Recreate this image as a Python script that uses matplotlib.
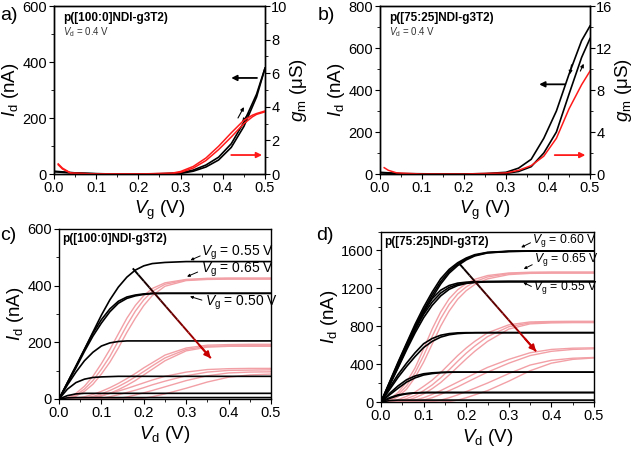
import matplotlib as mpl
import matplotlib.pyplot as plt
import numpy as np
from matplotlib.ticker import MultipleLocator, AutoMinorLocator

mpl.rcParams['font.family'] = ['Liberation Sans', 'DejaVu Sans']
mpl.rcParams['mathtext.fontset'] = 'custom'
mpl.rcParams['mathtext.rm'] = 'Liberation Sans'
mpl.rcParams['mathtext.it'] = 'Liberation Sans:italic'
mpl.rcParams['axes.linewidth'] = 1.0

# ---- transfer curves, panel a ----
vg_a = [0.0, 0.05, 0.1, 0.15, 0.2, 0.25, 0.3, 0.33, 0.36, 0.39, 0.42, 0.45, 0.48, 0.5]
id_a_fwd = [10, 4, 1, 0, 0, 0, 2, 10, 25, 50, 95, 170, 275, 378]
id_a_bwd = [8, 3, 1, 0, 0, 1, 4, 14, 32, 60, 108, 185, 285, 378]
vg_a_gm = [0.01, 0.02, 0.04, 0.1, 0.2, 0.28, 0.3, 0.33, 0.36, 0.39, 0.42, 0.45, 0.47, 0.48, 0.5]
gm_a_fwd = [0.6, 0.35, 0.05, 0.0, 0.0, 0.03, 0.1, 0.35, 0.8, 1.45, 2.2, 3.0, 3.4, 3.55, 3.7]
gm_a_bwd = [0.55, 0.3, 0.05, 0.0, 0.0, 0.05, 0.15, 0.45, 0.95, 1.65, 2.45, 3.2, 3.5, 3.6, 3.75]

# ---- transfer curves, panel b ----
vg_b = [0.0, 0.05, 0.1, 0.15, 0.2, 0.25, 0.3, 0.33, 0.36, 0.39, 0.42, 0.45, 0.48, 0.5]
id_b_fwd = [6, 1, 0, 0, 0, 0, 3, 12, 35, 100, 200, 380, 555, 645]
id_b_bwd = [8, 2, 1, 0, 0, 2, 8, 28, 70, 170, 300, 475, 635, 705]
vg_b_gm = [0.01, 0.02, 0.04, 0.1, 0.2, 0.3, 0.33, 0.36, 0.39, 0.42, 0.45, 0.48, 0.5]
gm_b = [0.6, 0.35, 0.1, 0.0, 0.0, 0.1, 0.35, 0.8, 1.7, 3.4, 6.2, 8.5, 9.8]

# ---- output curves (shared Vd grid) ----
vd = [0, 0.02, 0.04, 0.06, 0.08, 0.1, 0.12, 0.14, 0.16, 0.18, 0.2, 0.22, 0.25, 0.3, 0.35, 0.4, 0.45, 0.5]

c_black = [
    [0, 58, 116, 175, 236, 296, 350, 395, 430, 455, 470, 478, 482, 485, 485, 485, 485, 485],
    [0, 58, 116, 175, 232, 280, 318, 345, 360, 367, 371, 373, 373, 373, 373, 373, 373, 373],
    [0, 55, 110, 168, 222, 268, 308, 338, 355, 364, 369, 372, 373, 373, 373, 373, 373, 373],
    [0, 50, 95, 135, 165, 187, 198, 203, 205, 205, 205, 205, 205, 205, 205, 205, 205, 205],
    [0, 35, 58, 70, 76, 78, 79, 80, 80, 80, 80, 80, 80, 80, 80, 80, 80, 80],
    [0, 12, 18, 20, 20, 20, 20, 20, 20, 20, 20, 20, 20, 20, 20, 20, 20, 20],
    [0, 4, 5, 5, 5, 5, 5, 5, 5, 5, 5, 5, 5, 5, 5, 5, 5, 5],
]
c_red = [
    [0, 5, 20, 45, 80, 125, 175, 230, 285, 330, 365, 390, 410, 422, 426, 427, 427, 427],
    [0, 3, 14, 35, 65, 105, 150, 205, 260, 310, 350, 380, 405, 420, 424, 425, 425, 425],
    [0, 2, 10, 27, 52, 88, 130, 180, 235, 285, 330, 365, 398, 418, 422, 423, 423, 423],
    [0, 0, 3, 8, 16, 27, 40, 55, 72, 90, 110, 128, 155, 180, 190, 192, 193, 193],
    [0, 0, 0, 3, 9, 18, 30, 44, 60, 78, 97, 117, 145, 175, 186, 188, 189, 189],
    [0, 0, 0, 0, 3, 10, 20, 33, 48, 65, 85, 105, 135, 170, 183, 186, 186, 186],
    [0, 0, 0, 2, 6, 12, 20, 28, 37, 47, 57, 67, 80, 95, 104, 107, 108, 108],
    [0, 0, 0, 0, 0, 3, 8, 15, 23, 31, 40, 50, 63, 82, 95, 101, 102, 103],
    [0, 0, 0, 0, 0, 0, 0, 2, 7, 14, 22, 30, 43, 65, 82, 92, 95, 96],
    [0, 0, 0, 0, 0, 0, 0, 0, 0, 0, 3, 8, 18, 38, 60, 77, 85, 88],
]

d_black = [
    [0, 210, 420, 620, 820, 1000, 1160, 1300, 1400, 1470, 1520, 1555, 1580, 1592, 1595, 1595, 1595, 1595],
    [0, 195, 395, 595, 790, 970, 1130, 1270, 1380, 1455, 1510, 1548, 1577, 1590, 1594, 1595, 1595, 1595],
    [0, 180, 370, 565, 760, 940, 1100, 1245, 1360, 1440, 1500, 1542, 1574, 1589, 1593, 1594, 1594, 1594],
    [0, 205, 410, 610, 800, 960, 1090, 1180, 1230, 1255, 1265, 1270, 1272, 1273, 1273, 1273, 1273, 1273],
    [0, 190, 385, 580, 765, 925, 1055, 1150, 1210, 1242, 1258, 1265, 1270, 1272, 1272, 1272, 1272, 1272],
    [0, 175, 360, 550, 730, 890, 1020, 1120, 1190, 1230, 1252, 1262, 1268, 1270, 1270, 1270, 1270, 1270],
    [0, 150, 290, 410, 520, 615, 670, 705, 722, 730, 732, 732, 732, 732, 732, 732, 732, 732],
    [0, 130, 260, 375, 480, 575, 640, 685, 710, 722, 728, 731, 732, 732, 732, 732, 732, 732],
    [0, 90, 170, 235, 275, 298, 308, 313, 315, 315, 315, 315, 315, 315, 315, 315, 315, 315],
    [0, 75, 145, 210, 255, 285, 300, 310, 314, 315, 315, 315, 315, 315, 315, 315, 315, 315],
    [0, 45, 75, 90, 97, 100, 100, 100, 100, 100, 100, 100, 100, 100, 100, 100, 100, 100],
    [0, 38, 68, 86, 95, 99, 100, 100, 100, 100, 100, 100, 100, 100, 100, 100, 100, 100],
    [0, 15, 20, 20, 20, 20, 20, 20, 20, 20, 20, 20, 20, 20, 20, 20, 20, 20],
]
d_red = [
    [0, 30, 100, 210, 360, 560, 770, 950, 1090, 1185, 1250, 1295, 1335, 1362, 1370, 1372, 1372, 1372],
    [0, 20, 75, 170, 310, 490, 690, 880, 1030, 1140, 1215, 1270, 1320, 1355, 1365, 1367, 1367, 1367],
    [0, 12, 55, 135, 260, 420, 610, 800, 960, 1085, 1175, 1240, 1300, 1345, 1358, 1360, 1360, 1360],
    [0, 5, 25, 60, 105, 165, 230, 310, 400, 490, 570, 640, 730, 815, 845, 850, 852, 852],
    [0, 0, 10, 35, 70, 120, 180, 255, 340, 430, 515, 590, 690, 795, 835, 842, 843, 843],
    [0, 0, 0, 15, 45, 85, 140, 205, 285, 370, 455, 535, 640, 770, 825, 835, 838, 838],
    [0, 0, 0, 5, 20, 45, 80, 120, 165, 210, 255, 300, 365, 450, 520, 555, 568, 572],
    [0, 0, 0, 0, 5, 20, 45, 80, 120, 160, 205, 250, 315, 410, 490, 535, 555, 562],
    [0, 0, 0, 0, 0, 0, 5, 20, 45, 75, 110, 145, 200, 300, 390, 440, 462, 470],
    [0, 0, 0, 0, 0, 0, 0, 0, 5, 20, 45, 75, 120, 220, 330, 410, 450, 465],
]

RED = '#ff1a1a'
PINK = '#f2a0a6'
DARKRED = '#c80000'

W, H = 634, 449
fig = plt.figure(figsize=(W / 100, H / 100), dpi=100)


def box(l, r, t, b):
    return [l / W, 1 - b / H, (r - l) / W, (b - t) / H]


def style(ax):
    ax.tick_params(which='both', direction='out', labelsize=10.5, pad=1.5)
    ax.tick_params(which='major', length=3.5, width=0.8)
    ax.tick_params(which='minor', length=2, width=0.6)
    ax.xaxis.set_minor_locator(AutoMinorLocator(2))
    ax.yaxis.set_minor_locator(AutoMinorLocator(2))


def arrow(ax, start, end, color, lw=1.0, ms=6):
    ax.annotate('', xy=end, xytext=start,
                arrowprops=dict(arrowstyle='-|>', color=color, lw=lw,
                                mutation_scale=ms, shrinkA=0, shrinkB=0))


def grad_arrow(ax, start, end):
    xs = np.linspace(start[0], end[0], 15)
    ys = np.linspace(start[1], end[1], 15)
    for i in range(14):
        f = i / 13
        ax.plot(xs[i:i + 2], ys[i:i + 2], color=(0.8 * f, 0, 0), lw=1.4,
                solid_capstyle='butt', zorder=5)
    ax.annotate('', xy=end, xytext=(xs[-3], ys[-3]),
                arrowprops=dict(arrowstyle='-|>', color=DARKRED, lw=1.4,
                                mutation_scale=9, shrinkA=0, shrinkB=0), zorder=6)


LABFS = 13.5


def transfer(rect, vg, id_f, id_b, vg_gm, gms, ylim, ytick, glim, gtick, name):
    ax = fig.add_axes(rect)
    ax.plot(vg, id_f, color='k', lw=1.2)
    ax.plot(vg, id_b, color='k', lw=1.2)
    ax.set_xlim(0, 0.5)
    ax.set_ylim(0, ylim)
    ax.xaxis.set_major_locator(MultipleLocator(0.1))
    ax.yaxis.set_major_locator(MultipleLocator(ytick))
    style(ax)
    ax.set_xlabel(r'$\mathit{V}_\mathrm{g}$ (V)', fontsize=LABFS, labelpad=3)
    ax.set_ylabel(r'$\mathit{I}_\mathrm{d}$ (nA)', fontsize=LABFS, labelpad=1)
    ax2 = ax.twinx()
    for g in gms:
        ax2.plot(vg_gm, g, color=RED, lw=1.1)
    ax2.set_ylim(0, glim)
    ax2.yaxis.set_major_locator(MultipleLocator(gtick))
    style(ax2)
    ax2.tick_params(axis='y', pad=1)
    ax2.set_ylabel(r'$\mathit{g}_\mathrm{m}$ (μS)', fontsize=LABFS, labelpad=0)
    ax.text(0.045, 0.93, name, transform=ax.transAxes, fontsize=8.5,
            fontweight='bold', va='center')
    ax.text(0.045, 0.845, r'$\mathit{V}_\mathrm{d}$ = 0.4 V', transform=ax.transAxes,
            fontsize=7, va='center', color='#333333')
    return ax, ax2


# panel a
ax_a, ax_a2 = transfer(box(54, 265, 6, 174), vg_a, id_a_fwd, id_a_bwd, vg_a_gm,
                       [gm_a_fwd, gm_a_bwd], 600, 200, 10, 2, 'p([100:0]NDI-g3T2)')
arrow(ax_a, (0.481, 343), (0.42, 343), 'k', lw=1.3, ms=8)
arrow(ax_a2, (0.42, 1.13), (0.493, 1.13), RED, lw=1.3, ms=8)
arrow(ax_a, (0.436, 200), (0.45, 239), 'k', lw=0.8, ms=5)
arrow(ax_a, (0.462, 218), (0.446, 186), 'k', lw=0.8, ms=5)

# panel b
ax_b, ax_b2 = transfer(box(380, 590, 6, 174), vg_b, id_b_fwd, id_b_bwd, vg_b_gm,
                       [gm_b], 800, 200, 16, 4, 'p([75:25]NDI-g3T2)')
arrow(ax_b, (0.441, 427), (0.379, 427), 'k', lw=1.3, ms=8)
arrow(ax_b2, (0.416, 1.8), (0.489, 1.8), RED, lw=1.3, ms=8)
arrow(ax_b, (0.456, 520), (0.452, 475), 'k', lw=0.8, ms=5)
arrow(ax_b, (0.477, 490), (0.485, 525), 'k', lw=0.8, ms=5)


def output(rect, black, red, ylim, ytick, name, labels, arr, fs):
    ax = fig.add_axes(rect)
    for y in red:
        ax.plot(vd, y, color=PINK, lw=1.0)
    for y in black:
        ax.plot(vd, y, color='k', lw=1.2)
    ax.set_xlim(0, 0.5)
    ax.set_ylim(0, ylim)
    ax.xaxis.set_major_locator(MultipleLocator(0.1))
    ax.yaxis.set_major_locator(MultipleLocator(ytick))
    style(ax)
    ax.set_xlabel(r'$\mathit{V}_\mathrm{d}$ (V)', fontsize=LABFS, labelpad=3)
    ax.set_ylabel(r'$\mathit{I}_\mathrm{d}$ (nA)', fontsize=LABFS, labelpad=1)
    ax.text(0.013, 0.94, name, transform=ax.transAxes, fontsize=8.5,
            fontweight='bold', va='center')
    for txt, tpos, a0, a1 in labels:
        ax.text(tpos[0], tpos[1], r'$\mathit{V}_\mathrm{g}$ = ' + txt,
                fontsize=fs, va='center', ha='left')
        arrow(ax, a0, a1, 'k', lw=0.7, ms=4)
    grad_arrow(ax, arr[0], arr[1])
    return ax


ax_c = output(box(59, 271, 229, 399), c_black, c_red, 600, 200, 'p([100:0]NDI-g3T2)',
              [('0.55 V', (0.335, 516), (0.333, 505), (0.31, 490)),
               ('0.65 V', (0.335, 457), (0.327, 448), (0.302, 432)),
               ('0.50 V', (0.345, 340), (0.337, 349), (0.309, 362))],
              ((0.174, 461), (0.358, 144)), 10)

ax_d = output(box(381, 594, 231.5, 402), d_black, d_red, 1800, 400, 'p([75:25]NDI-g3T2)',
              [('0.60 V', (0.355, 1705), (0.351, 1681), (0.329, 1632)),
               ('0.65 V', (0.36, 1500), (0.355, 1449), (0.335, 1405)),
               ('0.55 V', (0.357, 1205), (0.353, 1220), (0.334, 1262))],
              ((0.182, 1470), (0.364, 535)), 8.8)

for lab, x, y in [('a)', 0, 15), ('b)', 318, 15), ('c)', 0, 236), ('d)', 316, 236)]:
    fig.text(x / W, 1 - y / H, lab, fontsize=14, va='center', ha='left')

fig.savefig('out.png', dpi=100)
